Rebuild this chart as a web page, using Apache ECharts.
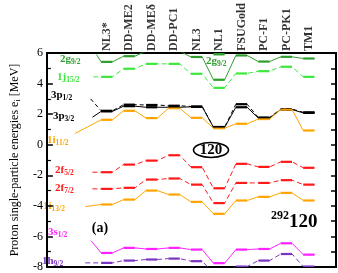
<!DOCTYPE html>
<html><head><meta charset="utf-8">
<script src="https://cdn.jsdelivr.net/npm/echarts@6/dist/echarts.min.js"></script>
<style>html,body{margin:0;padding:0;background:#fff}#c{width:338px;height:273px}</style>
</head><body><div id="c"></div>
<script>
// ---- data ----
const models = ['NL3*','DD-ME2','DD-MEδ','DD-PC1','NL3','NL1','FSUGold','PC-F1','PC-PK1','TM1'];
const e2g92  = [5.42, 5.79, 6.12, 6.12, 5.74, 4.25, 5.84, 5.44, 5.75, 5.64];
const e1j152 = [4.44, 4.97, 5.29, 5.29, 4.64, 3.72, 4.66, 4.81, 5.10, 4.44];
const e3p12  = [2.22, 2.62, 2.60, 2.55, 2.50, 1.16, 2.65, 1.78, 2.33, 2.12];
const e3p32  = [2.18, 2.52, 2.45, 2.45, 2.48, 1.14, 2.45, 1.74, 2.30, 2.08];
const e1i112 = [1.63, 2.22, 1.74, 2.39, 1.76, 1.08, 1.37, 1.68, 2.30, 0.93];
const e2f52  = [-1.80, -1.30, -1.04, -0.69, -1.47, -2.85, -1.25, -1.45, -1.12, -1.51];
const e2f72  = [-2.89, -2.82, -2.28, -2.21, -2.61, -3.82, -2.50, -2.50, -2.32, -2.61];
const e1i132 = [-3.91, -3.59, -3.00, -3.26, -3.74, -4.52, -3.65, -3.41, -3.15, -3.65];
const e3s12  = [-7.08, -6.75, -6.82, -6.75, -6.86, -7.75, -6.86, -6.82, -6.45, -7.19];
const e1h92  = [-7.73, -7.58, -7.51, -7.45, -7.62, -8.40, -7.97, -7.58, -7.15, -7.97];
const yTickLabels = [-8, -6, -4, -2, 0, 2, 4, 6];
const nl1Tag = [[5, 5.92]];

// ---- styling / layout ----
const HALF = 0.25;
const levels = [
  {v:e2g92,  color:'#2f9e2f', dash:'solid',  lead:[-0.46, 5.90]},
  {v:e1j152, color:'#3ee83e', dash:[5,3],    lead:[-0.60, 4.44]},
  {v:e3p12,  color:'#000000', dash:[4,3],    lead:[-0.72, 3.00]},
  {v:e3p32,  color:'#000000', dash:'solid',  lead:[-0.64, 1.80]},
  {v:e1i112, color:'#ffa500', dash:'solid',  lead:[-1.42, 0.73]},
  {v:e2f52,  color:'#ff1a1a', dash:[5,3],    lead:[-0.64, -1.80]},
  {v:e2f72,  color:'#ff1a1a', dash:[5,3],    lead:[-0.64, -2.89]},
  {v:e1i132, color:'#ffa500', dash:'solid',  lead:[-0.96, -4.05]},
  {v:e3s12,  color:'#ff22ff', dash:'solid',  lead:[-0.70, -6.28]},
  {v:e1h92,  color:'#7b35c4', dash:[5,3],    lead:[-0.96, -7.73]}
];
const series = [];
levels.forEach(L => {
  const pts = [L.lead];
  L.v.forEach((v,i) => { pts.push([i-HALF, v]); pts.push([i+HALF, v]); });
  series.push({type:'line', data:pts, symbol:'none', silent:true, animation:false,
    lineStyle:{color:L.color, width:1, type:L.dash}, clip:true});
  series.push({type:'custom', clip:true, animation:false, silent:true,
    data:L.v.map((v,i)=>[i,v]),
    renderItem:(p,api)=>{
      const a = api.coord([api.value(0)-HALF, api.value(1)]);
      const b = api.coord([api.value(0)+HALF, api.value(1)]);
      return {type:'line', shape:{x1:a[0],y1:a[1],x2:b[0],y2:b[1]}, style:{stroke:L.color, lineWidth:2.2}};
    }});
});
series.push({type:'custom', clip:false, animation:false, silent:true, data:nl1Tag,
  renderItem:(p,api)=>{
    const a = api.coord([api.value(0)-HALF, api.value(1)]);
    const b = api.coord([api.value(0)+HALF, api.value(1)]);
    return {type:'line', shape:{x1:a[0],y1:a[1],x2:b[0],y2:b[1]}, style:{stroke:'#2f9e2f', lineWidth:2.5}};
  }});
series.push({type:'scatter', symbolSize:0, silent:true, animation:false,
  data:models.map((m,i)=>[i, 6, m]),
  label:{show:true, position:'top', distance:2, rotate:90, align:'left', verticalAlign:'middle',
    formatter:p=>p.value[2], fontFamily:'Liberation Serif', fontWeight:'bold', fontSize:12, color:'#000'}});

const SERIF = 'Liberation Serif';
function lvlText(x, y, main, sub, color){
  return {type:'text', left:x, top:y-8, silent:true, style:{
    text:'{m|'+main+'}{s|'+sub+'}', fill:color,
    rich:{m:{fontFamily:SERIF, fontWeight:'bold', fontSize:11, verticalAlign:'top', lineHeight:12, fill:color},
          s:{fontFamily:SERIF, fontWeight:'bold', fontSize:7.5, verticalAlign:'bottom', lineHeight:9, fill:color, padding:[6,0,0,0]}}}};
}
const graphics = [
  lvlText(60, 60, '2g', '9/2', '#2f9e2f'),
  lvlText(57, 78, '1j', '15/2', '#3ee83e'),
  lvlText(51, 96, '3p', '1/2', '#000'),
  lvlText(53, 117, '3p', '3/2', '#000'),
  lvlText(47, 141, '1i', '11/2', '#ffa500'),
  lvlText(55, 171, '2f', '5/2', '#ff1a1a'),
  lvlText(55, 189, '2f', '7/2', '#ff1a1a'),
  lvlText(43, 207, '1i', '13/2', '#ffa500'),
  lvlText(48, 233, '3s', '1/2', '#ff22ff'),
  lvlText(42, 262, '1h', '9/2', '#7b35c4'),
  lvlText(206, 62, '2g', '9/2', '#2f9e2f'),
  {type:'ellipse', silent:true, shape:{cx:211, cy:150, rx:17.5, ry:7.5}, style:{fill:'#fff', stroke:'#000', lineWidth:1.6}},
  {type:'text', silent:true, x:211, y:150, style:{text:'120', fontFamily:SERIF, fontWeight:'bold', fontSize:15, fill:'#000', align:'center', verticalAlign:'middle'}},
  {type:'text', silent:true, x:100, y:228, style:{text:'(a)', fontFamily:SERIF, fontWeight:'bold', fontSize:14, fill:'#000', align:'center', verticalAlign:'middle'}},
  {type:'text', silent:true, left:271, top:210, style:{text:'{p|292}{b|120}',
    rich:{p:{fontFamily:SERIF, fontWeight:'bold', fontSize:12, verticalAlign:'top', lineHeight:12},
          b:{fontFamily:SERIF, fontWeight:'bold', fontSize:19, verticalAlign:'bottom', lineHeight:22}}}}
];

const chart = echarts.init(document.getElementById('c'), null, {renderer:'canvas'});
chart.setOption({
  animation:false,
  backgroundColor:'#fff',
  grid:{left:27, right:2, top:53, bottom:6, containLabel:false},
  xAxis:[
    {type:'value', min:-64/24, max:245/24, position:'bottom', axisLine:{show:true, onZero:false, lineStyle:{color:'#000', width:2}},
     axisTick:{show:false}, axisLabel:{show:false}, splitLine:{show:false}},
    {type:'value', min:-64/24, max:245/24, position:'top', axisLine:{show:true, onZero:false, lineStyle:{color:'#000', width:2}},
     axisTick:{show:false}, axisLabel:{show:false}, splitLine:{show:false}}
  ],
  yAxis:[
    {type:'value', min:yTickLabels[0], max:yTickLabels[yTickLabels.length-1], interval:2, position:'left',
     axisLine:{show:true, onZero:false, lineStyle:{color:'#000', width:2}},
     axisTick:{show:true, inside:true, length:6, lineStyle:{color:'#000', width:1.5}},
     minorTick:{show:true, splitNumber:2, length:4, lineStyle:{color:'#000', width:1.2}},
     axisLabel:{show:true, margin:4, fontFamily:SERIF, fontSize:12, color:'#000'},
     splitLine:{show:false},
     name:'{m|Proton single-particle energies e}{s|i}{m| [MeV]}', nameLocation:'middle', nameGap:15,
     nameTextStyle:{rich:{m:{fontFamily:SERIF, fontSize:12, color:'#000', verticalAlign:'top', lineHeight:13},
                          s:{fontFamily:SERIF, fontSize:8, color:'#000', verticalAlign:'bottom', lineHeight:9, padding:[6,0,0,0]}}}},
    {type:'value', min:yTickLabels[0], max:yTickLabels[yTickLabels.length-1], interval:1, position:'right',
     axisLine:{show:true, onZero:false, lineStyle:{color:'#000', width:2}},
     axisTick:{show:true, inside:true, length:5, lineStyle:{color:'#000', width:1.5}},
     axisLabel:{show:false}, splitLine:{show:false}}
  ],
  series:series,
  graphic:graphics
});
</script></body></html>
